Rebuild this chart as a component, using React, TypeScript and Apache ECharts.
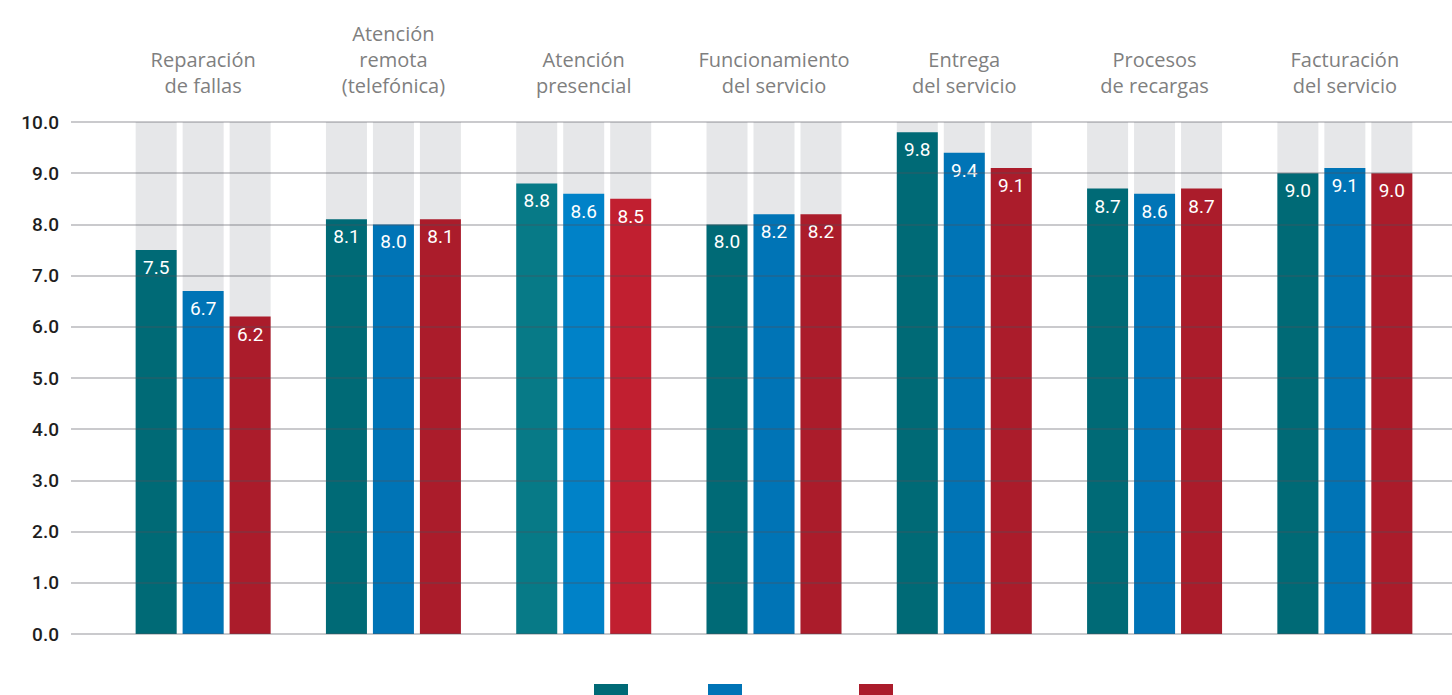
import React, { useEffect, useRef } from "react";
import * as echarts from "echarts";

const categories = [
  "Reparación\nde fallas",
  "Atención\nremota\n(telefónica)",
  "Atención\npresencial",
  "Funcionamiento\ndel servicio",
  "Entrega\ndel servicio",
  "Procesos\nde recargas",
  "Facturación\ndel servicio",
];
const seriesNames = ["Serie 1", "Serie 2", "Serie 3"];
const values1 = [7.5, 8.1, 8.8, 8.0, 9.8, 8.7, 9.0];
const values2 = [6.7, 8.0, 8.6, 8.2, 9.4, 8.6, 9.1];
const values3 = [6.2, 8.1, 8.5, 8.2, 9.1, 8.7, 9.0];
const yTicks = [0, 1, 2, 3, 4, 5, 6, 7, 8, 9, 10];

const baseColors = ["#006a76", "#0074b6", "#ab1c2b"];
const brightColors = ["#077a87", "#0082c8", "#c11f30"];
const highlightIndex = 2;

const FONT = "Roboto";
const CAT_FONT = "Open Sans";

export default function App() {
  const ref = useRef<HTMLDivElement>(null);
  useEffect(() => {
    if (!ref.current) return;
    const chart = echarts.init(ref.current, null, { renderer: "svg" });
    const all = [values1, values2, values3];
    const series = all.map((vals, si) => ({
      type: "bar",
      name: seriesNames[si],
      xAxisIndex: 1,
      yAxisIndex: 1,
      barWidth: 41,
      barGap: "14.6%",
      showBackground: true,
      backgroundStyle: { color: "#e6e7e9" },
      itemStyle: { color: baseColors[si] },
      data: vals.map((v, i) =>
        i === highlightIndex ? { value: v, itemStyle: { color: brightColors[si] } } : v
      ),
      label: {
        show: true,
        position: "insideTop",
        distance: 8,
        color: "#ffffff",
        fontFamily: FONT,
        fontSize: 19,
        formatter: (p: any) => Number(p.value).toFixed(1),
      },
    }));
    const legendLefts = [594, 708, 859];
    chart.setOption({
      animation: false,
      backgroundColor: "#ffffff",
      grid: [
        { left: 71, right: 0, top: 122, bottom: 61 },
        { left: 108, right: 12, top: 122, bottom: 61 },
      ],
      legend: seriesNames.map((n, i) => ({
        data: [n],
        left: legendLefts[i],
        top: 684,
        itemWidth: 34,
        itemHeight: 14,
        icon: "rect",
        formatter: () => "",
        selectedMode: false,
        padding: 0,
      })),
      xAxis: [
        { type: "value", gridIndex: 0, min: 0, max: 1, show: false },
        {
          type: "category",
          gridIndex: 1,
          position: "top",
          data: categories,
          axisLine: { show: false },
          axisTick: { show: false },
          axisLabel: {
            margin: 24,
            color: "#7f7f7f",
            fontFamily: CAT_FONT,
            fontSize: 20,
            lineHeight: 26,
            interval: 0,
          },
        },
      ],
      yAxis: [
        {
          type: "value",
          gridIndex: 0,
          min: 0,
          max: 10,
          interval: 1,
          z: 5,
          axisLine: { show: false },
          axisTick: { show: false },
          splitLine: { show: true, lineStyle: { color: "rgba(80,80,90,0.3)", width: 2 } },
          axisLabel: {
            margin: 12,
            color: "#1e1e1e",
            fontFamily: FONT,
            fontSize: 19,
            fontWeight: 500,
            formatter: (v: number) => (yTicks.includes(v) ? v.toFixed(1) : ""),
          },
        },
        { type: "value", gridIndex: 1, min: 0, max: 10, show: false },
      ],
      series,
    });
    return () => chart.dispose();
  }, []);
  return (
    <div
      ref={ref}
      style={{ position: "fixed", left: 0, top: 0, width: 1452, height: 695 }}
    />
  );
}
